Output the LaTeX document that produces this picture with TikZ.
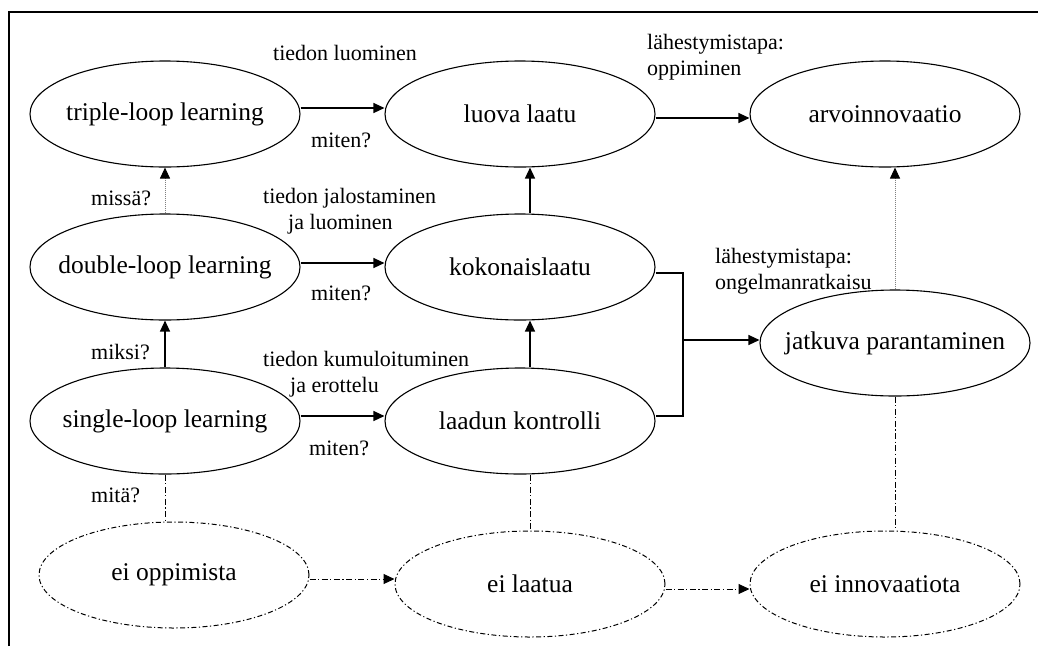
\documentclass[tikz,border=0pt]{standalone}
\usepackage{fontspec}
\setmainfont{Liberation Serif}
\usetikzlibrary{shapes.geometric,arrows.meta}
\newcommand{\ovaltext}[1]{\makebox[0pt]{#1}}
\begin{document}
\begin{tikzpicture}[x=1pt,y=-1pt,
  oval/.style={ellipse,draw,line width=1.1pt,minimum width=270pt,minimum height=106pt,
    inner sep=0pt,font=\fontsize{25.5}{28}\selectfont},
  nooval/.style={oval,line width=1pt,dash pattern=on 5pt off 2.5pt on 1.2pt off 2.5pt},
  lbl/.style={font=\fontsize{22}{26}\selectfont,inner sep=0pt},
  flow/.style={line width=1.3pt,-{Triangle[length=11pt,width=10pt]}},
  weakflow/.style={line width=1pt,gray,dash pattern=on 1pt off 1pt,
    -{Triangle[length=11pt,width=10pt,color=black]}},
  absent/.style={line width=1pt,dash pattern=on 6pt off 2.5pt on 1.2pt off 2.5pt},
  absentflow/.style={absent,-{Triangle[length=11pt,width=10pt]}}]

\useasboundingbox (0,0) rectangle (1038,646);
% frame
\draw[line width=2pt] (9,646) -- (9,12) -- (1038,12);

% learning levels
\node[oval] (triple) at (165,114) {\ovaltext{triple-loop learning}};
\node[oval] (double) at (165,267) {\ovaltext{double-loop learning}};
\node[oval] (single) at (165,421) {\ovaltext{single-loop learning}};
% quality levels
\node[oval] (luova)  at (520,114) {\ovaltext{luova laatu}};
\node[oval] (koko)   at (520,267) {\ovaltext{kokonaislaatu}};
\node[oval] (laadun) at (520,421) {\ovaltext{laadun kontrolli}};
% innovation
\node[oval] (arvo)    at (885,114) {\ovaltext{arvoinnovaatio}};
\node[oval] (jatkuva) at (895,343) {\ovaltext{jatkuva parantaminen}};
% absence
\node[nooval] (eiopp)   at (174,575) {\ovaltext{ei oppimista}};
\node[nooval] (eilaatu) at (530,584) {\ovaltext{ei laatua}};
\node[nooval] (eiinno)  at (885,584) {\ovaltext{ei innovaatiota}};

% horizontal flows
\draw[flow] ([yshift=6pt]triple.east) -- ([yshift=6pt]luova.west);
\draw[flow] ([yshift=-4pt]luova.east) -- ([yshift=-4pt]arvo.west);
\draw[flow] ([yshift=4pt]double.east) -- ([yshift=4pt]koko.west);
\draw[flow] ([yshift=5pt]single.east) -- ([yshift=5pt]laadun.west);

% vertical flows
\draw[weakflow] (double.north) -- (triple.south);
\draw[flow] (single.north) -- (double.south);
\draw[flow] ([xshift=10pt]koko.north) -- ([xshift=10pt]luova.south);
\draw[flow] ([xshift=10pt]laadun.north) -- ([xshift=10pt]koko.south);
\draw[weakflow] (jatkuva.north) -- ([xshift=10pt]arvo.south);

% bracket into continuous improvement
\coordinate (join) at (683,340);
\draw[line width=1.3pt] ([yshift=-6pt]koko.east) -| (join)
  |- ([yshift=5pt]laadun.east);
\draw[flow] (join) -- ([yshift=3pt]jatkuva.west);

% absence links
\draw[absent] (single.south) -- ([xshift=-9pt]eiopp.north);
\draw[absent] ([xshift=10pt]laadun.south) -- (eilaatu.north);
\draw[absent] (jatkuva.south) -- ([xshift=10pt]eiinno.north);
\draw[absentflow] ([yshift=-4pt]eiopp.east) -- ([yshift=5pt]eilaatu.west);
\draw[absentflow] ([yshift=-5pt]eilaatu.east) -- ([yshift=-5pt]eiinno.west);

% labels
\node[lbl,anchor=west] (l1) at (273,53) {tiedon luominen};
\node[lbl,anchor=west] (l2) at (311,140) {miten?};
\node[lbl,anchor=west] (l3) at (91,198) {missä?};
\node[lbl,anchor=west,align=left] (l4) at (263,211)
  {tiedon jalostaminen\\\hspace*{25pt}ja luominen};
\node[lbl,anchor=west] (l5) at (311,293) {miten?};
\node[lbl,anchor=west] (l6) at (91,352) {miksi?};
\node[lbl,anchor=west,align=left] (l7) at (263,374)
  {tiedon kumuloituminen\\\hspace*{27pt}ja erottelu};
\node[lbl,anchor=west] (l8) at (309,448) {miten?};
\node[lbl,anchor=west] (l9) at (91,495) {mitä?};
\node[lbl,anchor=west,align=left] (l10) at (647,57)
  {lähestymistapa:\\oppiminen};
\node[lbl,anchor=west,align=left] (l11) at (715,271)
  {lähestymistapa:\\ongelmanratkaisu};
\end{tikzpicture}
\end{document}
